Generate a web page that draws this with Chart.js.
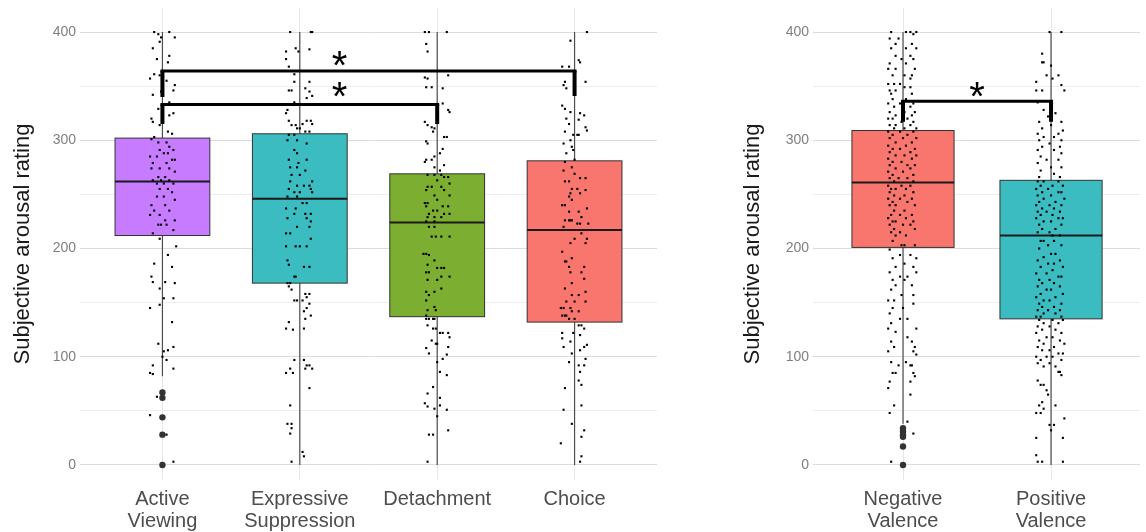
<!DOCTYPE html>
<html>
<head>
<meta charset="utf-8">
<script src="https://cdn.jsdelivr.net/npm/chart.js@4.4.1/dist/chart.umd.min.js"></script>
<style>
  html, body { margin: 0; background: #fff; }
  #wrap { position: relative; width: 1146px; height: 532px; }
  canvas { position: absolute; top: 0; }
  #left { left: 0; }
  #right { left: 730px; }
</style>
</head>
<body>
<div id="wrap">
  <canvas id="left" width="665" height="532"></canvas>
  <canvas id="right" width="416" height="532"></canvas>
</div>
<script>
// left panel: regulation strategies
const leftCats = [['Active', 'Viewing'], ['Expressive', 'Suppression'], ['Detachment'], ['Choice']];
const leftColors = ['#C77CFF', '#3BBCC0', '#7CAE31', '#F8766D'];
const leftQ1 = [212, 168, 137, 132];
const leftMed = [262, 246, 224, 217];
const leftQ3 = [302, 306, 269, 281];
const leftLow = [82, 0, 0, 0];
const leftHigh = [400, 400, 400, 400];
const leftOutliers = [[67, 62, 44, 28, 0], [], [], []];
// brackets: [from, to, height, left leg end, right leg end]
const leftBrackets = [[0, 3, 364, 340, 341], [0, 2, 333, 315, 315]];
const leftStars = [[1.29, 373], [1.29, 345]];

// right panel: valence
const rightCats = [['Negative', 'Valence'], ['Positive', 'Valence']];
const rightColors = ['#F8766D', '#3BBCC0'];
const rightQ1 = [201, 135];
const rightMed = [261, 212];
const rightQ3 = [309, 263];
const rightLow = [38, 0];
const rightHigh = [400, 400];
const rightOutliers = [[34, 31, 28, 26, 17, 0], []];
const rightBrackets = [[0, 1, 336, 317, 317]];
const rightStars = [[0.5, 345]];

const yGrid = [0, 50, 100, 150, 200, 250, 300, 350, 400];

// jittered ratings: [x offset from category, rating]
const ptsActive = [[-0.06,400],[0.05,400],[-0.03,398],[-0.01,395],[0.09,395],[-0.02,391],[-0.07,385],[0.05,378],[-0.04,375],[0.04,372],[-0.06,361],[-0.02,360],[-0.09,357],[0.03,355],[0.09,351],[0.08,346],[-0.01,345],[-0.07,342],[0.05,335],[-0.03,329],[0.08,325],[0.05,323],[-0.08,320],[-0.07,317],[-0.02,314],[0.04,308],[0.07,306],[-0.06,303],[-0.08,301],
  [-0.03,298],[0.03,298],[0.05,294],[-0.02,291],[0.08,291],[0.01,288],[0.04,288],[-0.09,285],[-0.04,285],[0.07,282],[0.09,282],[-0.07,279],[0.03,279],[-0.08,274],[-0.02,274],[0.05,274],[0.09,271],[-0.03,266],[0.02,266],[-0.07,263],[-0.01,263],[0.05,263],[0.01,260],[-0.04,260],[0.08,260],[-0.02,255],[0.04,255],[0.07,252],[-0.04,248],[0.01,248],[0.09,245],[-0.08,240],[0.02,240],[-0.06,235],[0.05,235],[-0.09,231],[-0.02,231],[0.09,226],[0.02,226],[-0.03,222],[-0.01,222],[0.03,222],[0.08,217],[-0.07,214],
  [-0.02,209],[0.1,202],[0.04,194],[-0.06,186],[0.07,183],[-0.08,174],[-0.07,169],[0.09,168],[0.02,169],[-0.02,163],[0.08,154],[0.01,154],[-0.02,148],[-0.09,145],[0.07,132],[-0.03,112],[0.08,109],[0.04,106],[0.01,105],[0,100],[0.03,97],[-0.07,92],[0.08,89],[-0.09,85],[-0.07,84],[-0.04,63],[-0.09,46],[0.03,28],[0.08,3]];

const ptsSuppression = [[-0.07,400],[0.08,400],[0.09,400],[-0.03,385],[0.07,384],[-0.10,382],[-0.01,382],[-0.10,375],[-0.08,368],[-0.04,361],[-0.04,354],[0.07,354],[-0.08,346],[-0.06,346],[0.04,348],[0.07,345],[0.09,341],[0.05,339],[-0.04,335],[-0.09,328],[-0.10,325],[-0.08,318],[0.05,318],[0.08,318],[0.02,315],[0.09,315],[-0.06,314],[-0.03,314],[-0.02,311],[0.00,311],[0.04,308],[0.07,308],[-0.08,305],[-0.04,305],
  [-0.09,300],[-0.02,300],[0.05,297],[-0.04,291],[-0.02,288],[-0.08,282],[0.05,282],[-0.01,279],[-0.07,275],[-0.02,275],[0.04,272],[-0.06,268],[0.00,268],[-0.07,262],[0.09,262],[-0.02,258],[0.03,258],[0.07,258],[-0.08,255],[0.08,255],[-0.04,252],[0.00,252],[0.09,252],[-0.09,248],[-0.02,248],[0.02,242],[0.05,242],[-0.10,237],[-0.03,237],[-0.04,232],[0.04,232],[0.08,232],[-0.09,228],[0.05,228],[0.08,225],[-0.02,220],[0.07,220],[-0.10,214],[-0.07,214],[0.08,209],[-0.10,202],[-0.03,202],[0.00,202],[0.05,202],[-0.09,189],[-0.08,185],[0.03,183],[0.07,183],[-0.04,174],[-0.03,174],[-0.09,168],[-0.07,168],
  [-0.08,165],[-0.06,162],[0.04,158],[0.07,158],[0.05,155],[-0.04,152],[-0.02,152],[0.02,152],[0.07,149],[0.05,145],[0.03,142],[0.08,138],[0.04,135],[-0.08,132],[-0.10,126],[0.03,126],[-0.05,125],[-0.04,97],[0.03,97],[0.05,92],[0.07,92],[0.09,89],[-0.07,89],[0.04,89],[-0.10,85],[-0.05,85],[0.07,71],[-0.07,55],[-0.09,38],[-0.06,38],[-0.06,34],[-0.07,29],[0.02,12],[0.03,8],[-0.06,3]];

const ptsDetachment = [[-0.09,400],[-0.06,400],[0.07,400],[-0.08,389],[-0.07,382],[0.08,360],[-0.09,358],[-0.07,357],[-0.08,349],[-0.04,349],[0.04,348],[0.04,334],[0.08,328],[0.09,326],[-0.09,317],[-0.07,314],[-0.04,312],[-0.02,311],[-0.03,308],[0.05,303],[0.07,303],[-0.08,299],[-0.07,297],[0.04,292],[0.02,288],[-0.02,285],[-0.08,282],[-0.04,282],[-0.09,280],[0.05,277],[-0.02,275],[0.02,272],
  [-0.07,268],[-0.02,268],[0.03,268],[0.05,266],[0.08,266],[0.00,263],[0.09,260],[-0.07,257],[-0.04,257],[0.03,257],[-0.08,254],[0.05,254],[-0.02,249],[0.09,249],[0.00,245],[-0.09,242],[-0.07,242],[-0.08,239],[0.04,239],[0.08,239],[-0.03,235],[0.00,235],[-0.06,232],[0.05,232],[0.09,232],[-0.07,229],[-0.02,229],[0.03,229],[-0.08,225],[-0.02,225],[-0.06,220],[-0.02,220],[-0.04,211],[-0.01,211],[0.03,211],[0.09,211],[-0.10,195],[-0.08,195],[-0.06,194],[-0.02,189],[-0.07,185],[0.00,182],[0.03,182],[0.05,182],[-0.08,178],[-0.06,178],[0.03,174],[0.09,174],[-0.07,171],[0.00,171],[0.03,163],[-0.08,160],[-0.02,160],[-0.06,157],[-0.08,152],[-0.02,146],[-0.07,143],[-0.01,143],[-0.08,138],
  [-0.08,135],[-0.06,135],[-0.03,135],[-0.02,135],[-0.07,129],[-0.03,126],[-0.01,126],[0.02,122],[0.04,122],[0.08,122],[0.09,118],[-0.04,115],[-0.01,112],[0.00,112],[0.08,109],[-0.08,108],[-0.06,103],[0.07,102],[0.04,98],[0.00,95],[0.02,86],[0.07,83],[-0.03,72],[-0.07,66],[-0.09,57],[-0.07,54],[-0.02,52],[0.02,62],[0.02,55],[0.07,51],[0.00,45],[0.08,32],[-0.06,28],[-0.03,28],[-0.07,3]];

const ptsChoice = [[0.09,400],[-0.03,392],[0.03,374],[0.04,372],[-0.09,368],[-0.04,368],[-0.07,354],[0.08,354],[-0.08,351],[-0.06,348],[-0.09,332],[-0.07,329],[-0.03,326],[0.04,325],[0.07,323],[-0.06,320],[0.03,319],[-0.04,315],[0.08,312],[0.09,309],[-0.07,308],[-0.01,305],[0.02,305],[0.03,305],[-0.03,300],[-0.08,297],[-0.02,294],[-0.01,291],[-0.06,288],
  [0.00,282],[-0.07,280],[-0.02,275],[-0.08,272],[0.00,269],[0.04,265],[0.08,265],[-0.07,262],[-0.04,262],[-0.02,255],[0.02,255],[0.08,254],[-0.03,251],[0.04,251],[-0.04,248],[-0.02,245],[-0.09,240],[-0.07,240],[0.09,237],[-0.04,234],[0.03,234],[0.05,229],[-0.07,226],[-0.04,226],[-0.03,226],[-0.02,226],[0.02,223],[0.04,223],[0.10,223],[-0.08,220],[0.05,214],[0.00,209],[0.09,209],[-0.03,205],[0.08,205],[-0.09,197],[-0.02,191],[-0.07,188],[-0.06,188],[-0.04,183],[0.07,183],[-0.03,178],[0.05,178],[0.07,172],[-0.02,168],[-0.07,163],[0.08,160],[-0.02,157],[0.03,157],[-0.06,151],[0.00,151],[0.08,151],[-0.10,145],[-0.08,145],[-0.03,145],[-0.02,142],[0.03,142],[-0.09,138],[-0.07,138],[-0.06,138],[-0.04,135],[0.00,135],
  [0.03,129],[0.05,129],[0.07,126],[-0.09,122],[-0.01,122],[0.04,120],[-0.09,117],[-0.03,114],[0.09,111],[-0.08,109],[0.07,109],[0.04,106],[-0.02,103],[0.08,98],[-0.04,95],[0.03,92],[0.07,92],[0.04,86],[0.03,78],[0.05,74],[-0.07,71],[0.05,55],[-0.08,51],[-0.02,38],[0.07,32],[0.05,26],[-0.10,20],[0.05,8],[0.04,3]];

const ptsNegative = [[-0.08,400],[0.02,400],[0.05,400],[0.09,400],[0.07,398],[-0.09,394],[-0.03,394],[-0.05,389],[0.06,389],[-0.08,385],[0.02,385],[0.09,385],[-0.05,378],[0.05,378],[-0.01,375],[0.07,375],[-0.09,371],[0.02,371],[-0.10,366],[-0.05,366],[0.08,366],[-0.07,360],[0.01,360],[0.06,360],[0.05,357],[-0.10,352],[-0.06,352],[-0.02,352],[0.05,349],[0.01,349],[-0.09,346],[-0.05,346],[0.06,343],[-0.08,343],[-0.07,338],[0.02,338],[-0.10,334],[-0.02,334],[0.07,334],[-0.06,331],[0.05,331],[-0.09,326],[0.01,326],[0.08,326],[-0.05,323],[0.06,323],[-0.10,320],[-0.07,320],[0.03,320],[-0.01,317],[0.07,317],[-0.09,314],[-0.05,314],[0.05,314],[-0.06,311],[0.01,311],[0.09,311],
  [-0.10,308],[-0.02,308],[0.07,308],[-0.07,305],[0.03,305],[-0.09,302],[0,302],[0.09,302],[-0.05,298],[0.06,298],[-0.10,295],[0.02,295],[-0.07,292],[-0.02,292],[0.08,292],[-0.09,289],[0.05,289],[-0.05,286],[0.01,286],[0.09,286],[-0.10,283],[0.06,283],[-0.07,280],[-0.01,280],[-0.09,277],[0.03,277],[0.08,277],[-0.05,274],[0.05,274],[-0.10,271],[0,271],[-0.07,268],[0.07,268],[-0.09,265],[-0.03,265],[0.03,265],[-0.06,262],[0.07,262],[-0.10,258],[-0.01,258],[0.05,258],[-0.08,255],[-0.05,255],[0.02,255],[-0.09,252],[0.07,252],[-0.06,249],[0.01,249],[-0.10,246],[-0.02,246],[0.06,246],[-0.07,243],[0.03,243],[-0.09,240],[-0.05,240],[0.08,240],[-0.06,235],[0.01,235],[-0.08,231],[-0.02,231],[0.06,231],[-0.10,228],[0.02,228],[-0.07,225],[-0.05,225],[0.07,225],[-0.09,222],[0,222],[0.05,222],[-0.06,218],[0.08,218],[-0.08,215],[-0.02,215],[-0.05,212],[0.02,212],[-0.07,207],[-0.01,203],[0.01,203],[0.08,203],
  [-0.09,199],[-0.02,194],[0.05,194],[-0.07,191],[0.09,191],[0.01,186],[-0.05,183],[0.07,183],[-0.09,178],[0.09,178],[-0.02,174],[0.03,174],[-0.07,171],[0.01,171],[-0.05,166],[0.06,166],[-0.08,162],[-0.01,157],[0.07,157],[-0.10,152],[-0.06,152],[0.07,149],[-0.07,145],[0,145],[-0.09,140],[-0.02,135],[0.03,135],[-0.08,131],[-0.10,126],[0.09,126],[-0.05,123],[0.03,118],[-0.08,114],[0.06,114],[-0.06,109],[0.08,109],[-0.10,105],[0.07,105],[0.09,102],[-0.08,95],[0.02,95],[-0.03,92],[0.05,92],[0.06,92],[-0.07,85],[-0.05,85],[0.07,85],[0.08,82],[-0.09,77],[0.05,77],[-0.10,71],[0.05,65],[-0.06,55],[-0.09,48],[0.03,40],[0.07,29],[-0.08,3]];

const ptsPositive = [[-0.01,400],[0.07,400],[-0.06,380],[-0.06,372],[-0.05,372],[0,369],[-0.03,360],[0.05,360],[0.01,357],[-0.10,354],[0.07,351],[-0.10,346],[-0.06,346],[0.09,346],[-0.09,335],[-0.05,328],[0.03,325],[-0.02,322],[-0.08,317],[0.07,317],[0,314],[-0.06,311],[0.08,309],[-0.09,306],[0.05,306],[-0.05,303],[0.02,303],[-0.08,300],[0.07,300],[-0.01,297],[-0.06,294],[0.06,294],[-0.09,291],[0.02,291],[0.07,288],[-0.07,285],[-0.03,282],[0.05,282],[-0.09,279],[0,275],[0.07,275],[-0.07,272],[0.02,269],[-0.08,266],[0.06,266],
  [-0.09,262],[-0.05,262],[0.05,262],[-0.07,258],[0.01,258],[0.08,258],[-0.10,255],[-0.02,255],[-0.06,252],[0.05,252],[0.07,252],[-0.09,249],[0,249],[-0.05,246],[0.09,246],[-0.08,243],[0.03,243],[-0.10,240],[-0.01,240],[0.07,240],[-0.06,237],[0.02,237],[-0.09,234],[-0.03,234],[0.06,234],[-0.07,231],[0.01,231],[-0.10,228],[0.05,228],[0.08,228],[-0.05,225],[0,225],[-0.08,222],[0.07,222],[-0.06,218],[0.03,218],[-0.09,215],[-0.01,215],[0.01,212],[0.06,212],[-0.07,207],[-0.05,207],[0.02,207],[-0.02,203],[0.07,203],[-0.08,200],[0,195],[0.03,195],[-0.05,192],[-0.09,189],[0.06,189],[-0.02,186],[0.02,186],[-0.07,183],[0.08,183],[0.01,180],[-0.10,177],[-0.03,177],[0.05,174],[0.07,174],[-0.08,171],[-0.01,171],[-0.06,168],[0.02,168],[-0.09,165],[0.06,165],[-0.03,162],[0,162],[-0.07,158],[0.08,158],[-0.10,155],[0.03,155],[-0.05,152],[-0.01,152],[-0.08,149],[0.07,149],[-0.06,146],[0.02,146],[-0.09,143],[-0.02,143],[0.06,143],[-0.05,140],[0.03,140],[-0.10,137],[-0.07,137],[0.07,137],
  [-0.08,134],[0.01,134],[0.08,134],[-0.05,131],[0.05,131],[-0.09,128],[-0.01,128],[-0.06,125],[0.03,125],[-0.10,122],[0.07,122],[-0.03,118],[0.01,118],[-0.08,115],[0.06,115],[-0.05,112],[0.09,112],[-0.09,109],[0.02,109],[-0.06,106],[-0.01,106],[0.05,103],[0.08,103],[-0.10,100],[-0.03,100],[0.01,100],[-0.07,97],[0.07,97],[-0.09,94],[-0.01,94],[-0.05,91],[0.03,91],[0.05,86],[0.06,86],[0.07,83],[-0.09,78],[-0.07,74],[-0.05,74],[-0.03,69],[-0.02,65],[-0.06,58],[-0.08,55],[0.03,55],[-0.05,52],[-0.10,48],[-0.07,48],[0.09,43],[-0.01,37],[0.02,37],[0,32],[0.08,25],[-0.10,25],[-0.10,9],[-0.09,3],[-0.06,3],[0.08,3]];

const leftPts = [ptsActive, ptsSuppression, ptsDetachment, ptsChoice];
const rightPts = [ptsNegative, ptsPositive];

Chart.defaults.font.family = "'Liberation Sans', Arial, sans-serif";

// box, whisker and bracket drawing through the chart's own scales
function boxPlugin(spec) {
  return {
    id: 'boxes',
    beforeDatasetsDraw(chart) {
      const { ctx, scales: { x, y } } = chart;
      ctx.save();
      spec.q1.forEach((q1, i) => {
        const cx = x.getPixelForValue(i);
        ctx.strokeStyle = '#4d4d4d';
        ctx.lineWidth = 1.2;
        ctx.beginPath();
        ctx.moveTo(cx, y.getPixelForValue(spec.lo[i]));
        ctx.lineTo(cx, y.getPixelForValue(spec.hi[i]));
        ctx.stroke();
        const x0 = x.getPixelForValue(i - 0.345);
        const x1 = x.getPixelForValue(i + 0.345);
        const yt = y.getPixelForValue(spec.q3[i]);
        const yb = y.getPixelForValue(q1);
        ctx.fillStyle = spec.colors[i];
        ctx.fillRect(x0, yt, x1 - x0, yb - yt);
        ctx.strokeStyle = '#333';
        ctx.lineWidth = 1;
        ctx.strokeRect(x0, yt, x1 - x0, yb - yt);
        const ym = y.getPixelForValue(spec.med[i]);
        ctx.strokeStyle = '#1a1a1a';
        ctx.lineWidth = 2;
        ctx.beginPath();
        ctx.moveTo(x0, ym);
        ctx.lineTo(x1, ym);
        ctx.stroke();
      });
      ctx.restore();
    },
    afterDatasetsDraw(chart) {
      const { ctx, scales: { x, y } } = chart;
      ctx.save();
      ctx.strokeStyle = '#000';
      ctx.lineCap = 'butt';
      spec.brackets.forEach(b => {
        const xa = x.getPixelForValue(b[0]), xb = x.getPixelForValue(b[1]);
        const yh = y.getPixelForValue(b[2]);
        ctx.lineWidth = 3;
        ctx.beginPath();
        ctx.moveTo(xa - 2, yh);
        ctx.lineTo(xb + 2, yh);
        ctx.stroke();
        ctx.lineWidth = 4;
        ctx.beginPath();
        ctx.moveTo(xa, yh);
        ctx.lineTo(xa, y.getPixelForValue(b[3]));
        ctx.moveTo(xb, yh);
        ctx.lineTo(xb, y.getPixelForValue(b[4]));
        ctx.stroke();
      });
      ctx.fillStyle = '#000';
      ctx.font = "40px 'Liberation Sans', Arial";
      ctx.textAlign = 'center';
      ctx.textBaseline = 'alphabetic';
      spec.stars.forEach(s => {
        ctx.fillText('*', x.getPixelForValue(s[0]), y.getPixelForValue(s[1]) + 18);
      });
      ctx.restore();
    }
  };
}

function makeChart(id, cats, pts, outliers, spec, xMin, xMax, yWidth, padRight) {
  const datasets = pts.map((group, i) => ({
    data: group.map(p => ({ x: i + p[0], y: p[1] })),
    pointRadius: 1.5,
    pointStyle: 'rect',
    backgroundColor: '#000',
    borderWidth: 0
  }));
  datasets.push({
    data: outliers.flatMap((vals, i) => vals.map(v => ({ x: i, y: v }))),
    pointRadius: 3.2,
    backgroundColor: '#333',
    borderWidth: 0
  });
  return new Chart(document.getElementById(id), {
    type: 'scatter',
    data: { datasets },
    options: {
      responsive: false,
      animation: false,
      layout: { padding: { top: 8, right: padRight, left: 0, bottom: 0 } },
      plugins: { legend: { display: false }, tooltip: { enabled: false } },
      scales: {
        x: {
          type: 'linear', min: xMin, max: xMax,
          afterBuildTicks: s => { s.ticks = cats.map((c, i) => ({ value: i })); },
          afterFit: s => { s.height = 52; },
          ticks: {
            callback: v => cats[v],
            color: '#4d4d4d',
            font: { size: 20, lineHeight: 1.1 },
            padding: 8, autoSkip: false, maxRotation: 0
          },
          grid: { color: '#e6e6e6', drawTicks: false },
          border: { display: false }
        },
        y: {
          min: -13.9, max: 422.2,
          afterBuildTicks: s => { s.ticks = yGrid.map(v => ({ value: v })); },
          afterFit: s => { s.width = yWidth; s.paddingTop = 0; s.paddingBottom = 0; },
          ticks: {
            callback: v => (v % 100 === 0 ? v : ''),
            color: '#7f7f7f',
            font: { size: 14 },
            padding: 4
          },
          grid: {
            color: c => (c.tick && c.tick.value % 100 === 0 ? '#dcdcdc' : '#eeeeee'),
            drawTicks: false
          },
          border: { display: false },
          title: {
            display: true,
            text: 'Subjective arousal rating',
            color: '#1a1a1a',
            font: { size: 22 },
            padding: { top: 10, bottom: 0 }
          }
        }
      }
    },
    plugins: [boxPlugin(spec)]
  });
}

makeChart('left', leftCats, leftPts, leftOutliers, {
  q1: leftQ1, med: leftMed, q3: leftQ3, lo: leftLow, hi: leftHigh,
  colors: leftColors, brackets: leftBrackets, stars: leftStars
}, -0.6, 3.6, 80, 8);

makeChart('right', rightCats, rightPts, rightOutliers, {
  q1: rightQ1, med: rightMed, q3: rightQ3, lo: rightLow, hi: rightHigh,
  colors: rightColors, brackets: rightBrackets, stars: rightStars
}, -0.608, 1.601, 83, 6);
</script>
</body>
</html>
